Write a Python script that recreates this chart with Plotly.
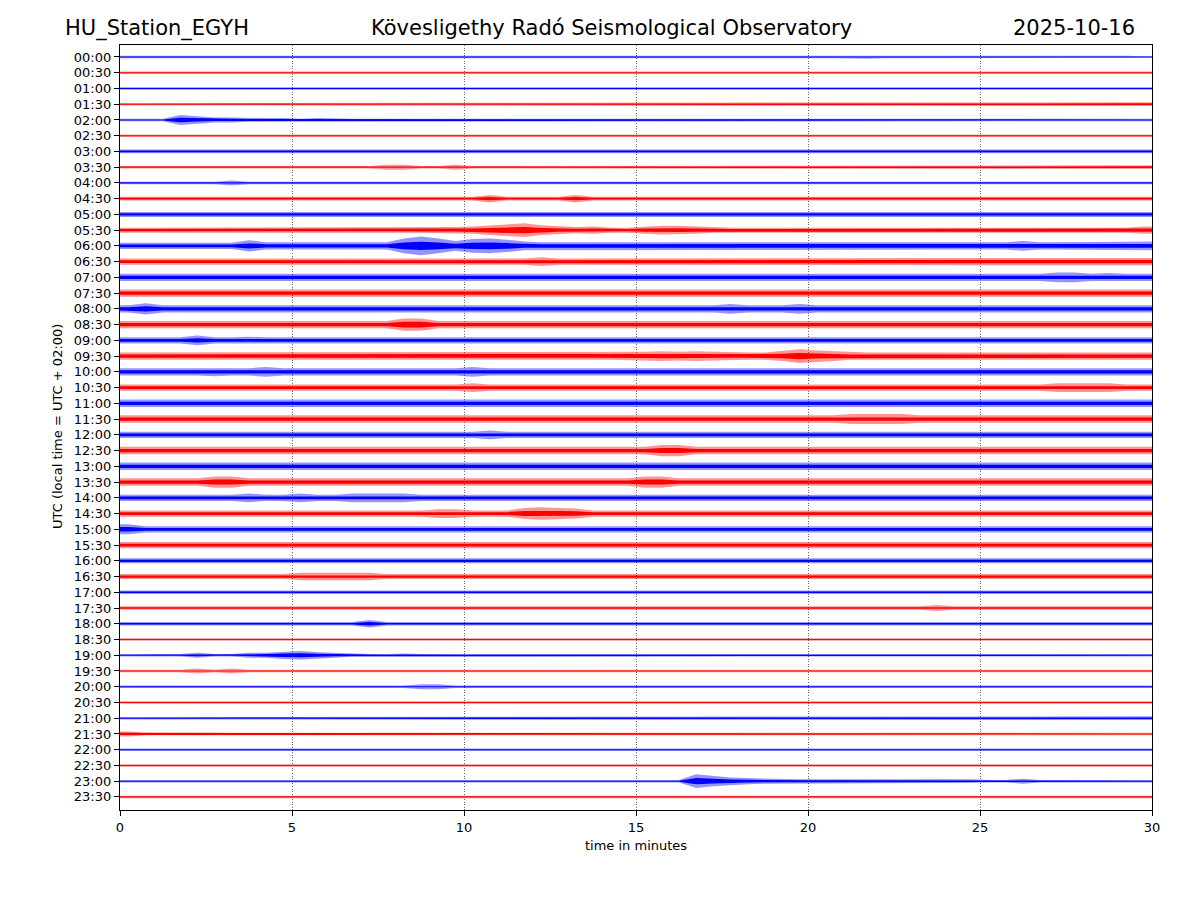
import plotly.graph_objects as go

station = "HU_Station_EGYH"
observatory = "Kövesligethy Radó Seismological Observatory"
date_label = "2025-10-16"

row_labels = ["00:00", "00:30", "01:00", "01:30", "02:00", "02:30", "03:00", "03:30",
              "04:00", "04:30", "05:00", "05:30", "06:00", "06:30", "07:00", "07:30",
              "08:00", "08:30", "09:00", "09:30", "10:00", "10:30", "11:00", "11:30",
              "12:00", "12:30", "13:00", "13:30", "14:00", "14:30", "15:00", "15:30",
              "16:00", "16:30", "17:00", "17:30", "18:00", "18:30", "19:00", "19:30",
              "20:00", "20:30", "21:00", "21:30", "22:00", "22:30", "23:00", "23:30"]

row_colors = ["#0000ff", "#ff0000"] * 24

# envelope amplitude per 30-second segment (hex level, 60 segments per row)
envelopes = [
    "2222222222 2222232222 2222222222 2222222222 2223222222 2222222221",  # 00:00
    "2222222222 2222222222 2232222222 2222222222 2222222222 2222222222",  # 00:30
    "2222222222 2222222222 2222222222 2222222222 2222232222 2222222222",  # 01:00
    "2222222222 2222222222 2222222222 2222222222 2222222222 2222222223",  # 01:30
    "2228644333 2322222222 2222222222 2222222222 2222222222 2222222222",  # 02:00
    "2222222222 2222222223 2222222222 2222232222 2222222322 2222222222",  # 02:30
    "3334333433 3334333333 3333333433 3333333333 3333333333 3333333333",  # 03:00
    "2222222222 2222244224 2222222222 2222222222 2222222222 2222222223",  # 03:30
    "2222224222 2222222222 2222222222 2222222222 2222222223 3333332222",  # 04:00
    "3333334333 3333333333 3633336333 3333333433 3333333344 4333333333",  # 04:30
    "4444555555 4444444444 4444444444 5444444444 4444444444 4444444444",  # 05:00
    "4444444444 4444444455 68ab865644 6776444444 4444444444 4444444446",  # 05:30
    "5555555966 666666cfc8 bca7666666 6666666666 6666666666 6686666667",  # 06:00
    "5555655555 5555555555 5555755555 5565555555 5555555555 5555555666",  # 06:30
    "6666666666 6667666766 6666666666 6666667666 6666666666 6666886766",  # 07:00
    "6666666676 6666766666 6666666666 7766666666 6666666776 6666677766",  # 07:30
    "6966666666 6666666666 6666666666 6666686668 6666666666 6666666666",  # 08:00
    "6666666667 666666aa66 6666666666 6666666666 6666666666 6666666666",  # 08:30
    "5555855655 5555555555 5555555555 5555555555 5555555555 5555555555",  # 09:00
    "6666666666 6666666666 6666666666 787876668b 9866666666 6666666666",  # 09:30
    "6666676686 6666666666 8666666666 6666666666 6666666666 6666666666",  # 10:00
    "5555555555 5555555555 7555555555 5555555555 5555555555 5555777755",  # 10:30
    "6666666666 6666666666 6666666666 7666666666 6666666666 6666666666",  # 11:00
    "6666666667 6666666666 6666666666 6676666666 6688886666 6666766666",  # 11:30
    "5555555555 5555556555 5755555555 5555555555 5555555555 5555555555",  # 12:00
    "6666677666 6666666666 6666666666 6996666666 6666666666 6666666666",  # 12:30
    "6677666666 6666766666 6666666666 6666666666 6666666666 6676666666",  # 13:00
    "6666699666 6666666676 6666666666 9966666666 6666666666 6666666666",  # 13:30
    "5555555755 7557777555 5555555555 5555555555 5555555555 5555555555",  # 14:00
    "5555555555 5555555577 5559a98555 5555555555 5555555555 5555555555",  # 14:30
    "8555555555 5555655555 5555555555 5555555555 5555555555 5555555555",  # 15:00
    "5565555555 5555555555 5555555555 5555566555 5555555555 5565555555",  # 15:30
    "4444444444 4444444444 4444444444 4444444444 4444444544 4454444444",  # 16:00
    "4444444444 6666644444 4444444444 4444444444 4444445444 4444444444",  # 16:30
    "3333333333 3333333333 3333333333 3333333333 3333333333 3333333333",  # 17:00
    "3333333333 3333333333 3333333333 3333333333 3333333533 3333333333",  # 17:30
    "3343333333 3333633333 3333333333 3343343333 3333333333 3333333333",  # 18:00
    "2222222222 2222222222 2222222222 2222222322 2222223223 2222222222",  # 18:30
    "2222422446 7542223222 2222222222 2222222222 2222222222 2222222222",  # 19:00
    "2222424222 2222222222 2222222222 2222222222 2222222222 2222222222",  # 19:30
    "2222222222 2222222442 2222222222 2222222222 2222222222 2222222222",  # 20:00
    "2222222222 2222222222 2222222222 2222222222 2222222222 2222222222",  # 20:30
    "2222222222 2222222222 2222222222 2222222222 2222222222 2332222223",  # 21:00
    "4222222222 2222222222 2222222222 2222222222 2222222222 2222222222",  # 21:30
    "2222223232 2222222322 2222222222 2222222222 2222222222 2222222222",  # 22:00
    "2222222222 2222222222 2222222222 2222222222 2222222222 2222222222",  # 22:30
    "2222222222 2222222222 2222222222 222b865433 3333343333 2242222222",  # 23:00
    "2222222222 2222222222 2222222222 2222222222 2222222222 2222222222",  # 23:30
]

x_ticks = [0, 5, 10, 15, 20, 25, 30]
minutes_span = 30
segment_minutes = 0.5

# --- styling constants ---
ROW_PX = 765 / 48.59          # pixel height of one row slot
LEVEL_PX = 0.62               # pixels of half-amplitude per envelope level


def build(color, core):
    xs_all, ys_all = [], []
    for r, env in enumerate(envelopes):
        if row_colors[r] != color:
            continue
        vals = [int(c, 16) for c in env.replace(" ", "")]
        amps = []
        for v in vals:
            a = v * LEVEL_PX
            if core:
                a = max(0.45 * a, 0.5)
            amps.append(a / ROW_PX)
        xs = [0.0] + [(i + 0.5) * segment_minutes for i in range(len(vals))] + [float(minutes_span)]
        am = [amps[0]] + amps + [amps[-1]]
        up = [r - a for a in am]
        lo = [r + a for a in am]
        xs_all += xs + xs[::-1] + [None]
        ys_all += up + lo[::-1] + [None]
    return xs_all, ys_all


def rgba(hexc, alpha):
    h = hexc.lstrip("#")
    return "rgba(%d,%d,%d,%s)" % (int(h[0:2], 16), int(h[2:4], 16), int(h[4:6], 16), alpha)


fig = go.Figure()
for color in ["#0000ff", "#ff0000"]:
    for core, alpha in [(False, 0.42), (True, 1.0)]:
        xs, ys = build(color, core)
        fig.add_trace(go.Scatter(
            x=xs, y=ys, mode="lines", fill="toself",
            fillcolor=rgba(color, alpha), line=dict(width=0, color=rgba(color, alpha)),
            hoverinfo="skip", showlegend=False))

font_family = "DejaVu Sans"
# the page adds an 8px body margin, so margins are reduced accordingly
fig.update_layout(
    width=1200, height=900,
    margin=dict(l=112, r=56, t=37, b=98),
    paper_bgcolor="white", plot_bgcolor="white",
    font=dict(family=font_family, color="black", size=13),
    showlegend=False,
)
fig.update_xaxes(
    range=[0, minutes_span], tickvals=x_ticks, ticktext=[str(t) for t in x_ticks],
    showgrid=True, gridcolor="rgba(0,0,0,0.6)", griddash="1px,1.6px", gridwidth=0.8,
    showline=True, linecolor="black", linewidth=1.2, mirror=True,
    ticks="outside", ticklen=5, tickwidth=1, tickcolor="black",
    zeroline=False, tickfont=dict(size=13, family=font_family),
)
fig.update_yaxes(
    range=[47.83, -0.76], tickvals=list(range(len(row_labels))), ticktext=row_labels,
    showgrid=False, showline=True, linecolor="black", linewidth=1.2, mirror=True,
    ticks="outside", ticklen=5, tickwidth=1, tickcolor="black",
    zeroline=False, tickfont=dict(size=13, family=font_family),
)

W = 1032.0
H = 765.0
ann = [
    dict(text=station, x=(63 - 120) / W, xanchor="left", y=1 + 17 / H, yanchor="middle", size=21),
    dict(text=observatory, x=(611 - 120) / W, xanchor="center", y=1 + 17 / H, yanchor="middle", size=21),
    dict(text=date_label, x=(1137 - 120) / W, xanchor="right", y=1 + 17 / H, yanchor="middle", size=21),
    dict(text="time in minutes", x=0.5, xanchor="center", y=-(845 - 810) / H, yanchor="middle", size=13),
]
for a in ann:
    fig.add_annotation(text=a["text"], xref="paper", yref="paper", x=a["x"], y=a["y"],
                       xanchor=a["xanchor"], yanchor=a["yanchor"], showarrow=False,
                       font=dict(size=a["size"], family=font_family, color="black"))
fig.add_annotation(text="UTC (local time = UTC + 02:00)", xref="paper", yref="paper",
                   x=(57 - 120) / W, y=1 - (427 - 45) / H, xanchor="center", yanchor="middle",
                   textangle=-90, showarrow=False,
                   font=dict(size=13, family=font_family, color="black"))

fig.write_html("out.html")
